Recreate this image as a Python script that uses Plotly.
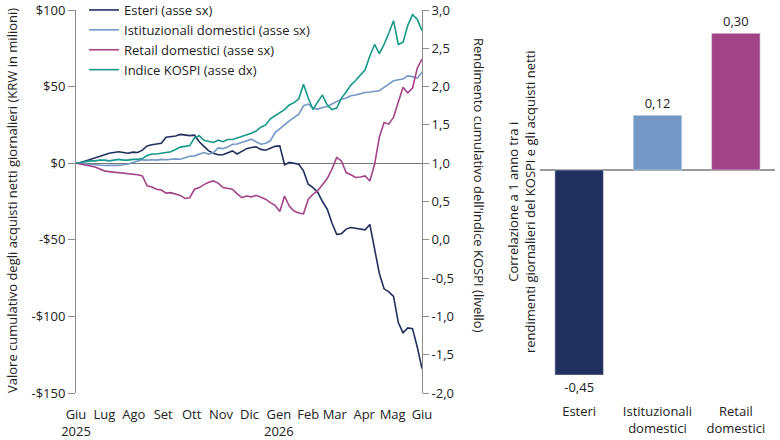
import plotly.graph_objects as go

dates = [
    "2025-06-01", "2025-06-06", "2025-06-11", "2025-06-16", "2025-06-21", "2025-06-26",
    "2025-07-01", "2025-07-06", "2025-07-11", "2025-07-16", "2025-07-21", "2025-07-26", "2025-07-31",
    "2025-08-05", "2025-08-10", "2025-08-15", "2025-08-20", "2025-08-25", "2025-08-30",
    "2025-09-04", "2025-09-09", "2025-09-14", "2025-09-19", "2025-09-24", "2025-09-29",
    "2025-10-04", "2025-10-09", "2025-10-14", "2025-10-19", "2025-10-24", "2025-10-29",
    "2025-11-03", "2025-11-08", "2025-11-13", "2025-11-18", "2025-11-23", "2025-11-28",
    "2025-12-03", "2025-12-08", "2025-12-13", "2025-12-18", "2025-12-23", "2025-12-28",
    "2026-01-02", "2026-01-07", "2026-01-12", "2026-01-17", "2026-01-22", "2026-01-27",
    "2026-02-01", "2026-02-06", "2026-02-11", "2026-02-16", "2026-02-21", "2026-02-26",
    "2026-03-03", "2026-03-08", "2026-03-13", "2026-03-18", "2026-03-23", "2026-03-28",
    "2026-04-02", "2026-04-07", "2026-04-12", "2026-04-17", "2026-04-22", "2026-04-27",
    "2026-05-02", "2026-05-07", "2026-05-12", "2026-05-17", "2026-05-22", "2026-05-27",
    "2026-06-01",
]

esteri = [
    0, 0.5, 1.5, 2.5, 3.5, 5, 5.8, 6.5, 7, 7.5, 7, 6.5, 7.2, 7, 8.5, 11.3, 12, 12.4, 13,
    17, 17.5, 17.8, 18.8, 18.5, 18, 18.3, 14, 11, 8, 6.5, 5.5, 5.5, 6.5, 8, 6, 8, 9.5,
    10.2, 10.7, 9, 8.5, 9.8, 11, 11.3, -1, 0.5, 0, -0.7, -5, -13.7, -16, -19, -25, -30,
    -39, -46.4, -46, -43, -42, -42.5, -43, -43.5, -40, -55, -72, -82, -84, -87, -104,
    -110.7, -107.5, -108, -120, -134,
]

istituzionali = [
    0, 0.3, -0.5, -0.8, -1, -1.2, -1.5, -1.3, -1.5, -1.4, -1, -0.5, 0.5, 1.5, 2.2, 2,
    2.3, 2, 2.5, 2.3, 2.6, 2.8, 2.6, 3.7, 4.5, 4.8, 6, 7, 5.9, 7, 10, 9.5, 10.5, 12.4,
    12.5, 13.5, 14.6, 15.7, 14, 12.4, 13, 14.6, 20, 22.2, 25, 27.6, 30, 32, 37.5, 38.6,
    36, 35.3, 36.4, 37, 38.6, 40, 41.8, 42.5, 44, 44.5, 45.5, 46.2, 46.5, 47, 47.3, 49.5,
    51.6, 53.8, 54.5, 55, 57, 56.5, 55.5, 59.3,
]

retail = [
    0, -0.5, -1, -1.8, -2.5, -3.9, -5, -5.5, -5.8, -6.1, -6.5, -7, -7.2, -7.5, -8.3,
    -14.8, -15.5, -17, -17.5, -19.5, -19.2, -20.3, -21, -23, -22.5, -17, -15.9, -14,
    -12.5, -11.6, -13, -15.9, -16.5, -17, -20, -22.4, -21.4, -22, -21, -22.5, -23.5,
    -25.7, -27.5, -31.5, -21.4, -28, -31.2, -32.5, -33, -23.5, -20.3, -18, -13.7, -10,
    -3.9, 3.7, 1.5, -6.1, -7.5, -9.3, -9, -8.3, -11.6, -0.7, 17, 26.6, 25.5, 30, 40,
    49.5, 46, 49, 62, 68,
]

kospi = [
    1.0, 1.01, 1.02, 1.03, 1.03, 1.04, 1.04, 1.03, 1.04, 1.05, 1.04, 1.04, 1.05, 1.05,
    1.06, 1.10, 1.12, 1.12, 1.13, 1.14, 1.15, 1.18, 1.21, 1.22, 1.23, 1.33, 1.36, 1.30,
    1.28, 1.27, 1.30, 1.28, 1.31, 1.31, 1.33, 1.35, 1.36, 1.39, 1.42, 1.47, 1.50, 1.58,
    1.62, 1.66, 1.70, 1.76, 1.79, 1.84, 2.03, 1.85, 1.70, 1.80, 1.89, 1.76, 1.70, 1.72,
    1.85, 1.93, 2.02, 2.08, 2.15, 2.22, 2.40, 2.55, 2.43, 2.55, 2.70, 2.86, 2.55, 2.58,
    2.80, 2.94, 2.88, 2.73,
]

series_names = ["Esteri (asse sx)", "Istituzionali domestici (asse sx)",
                "Retail domestici (asse sx)", "Indice KOSPI (asse dx)"]

month_ticks = ["2025-06-01", "2025-07-01", "2025-08-01", "2025-09-01", "2025-10-01",
               "2025-11-01", "2025-12-01", "2026-01-01", "2026-02-01", "2026-03-01",
               "2026-04-01", "2026-05-01", "2026-06-01"]
month_labels = ["Giu<br>2025", "Lug", "Ago", "Set", "Ott", "Nov", "Dic", "Gen<br>2026",
                "Feb", "Mar", "Apr", "Mag", "Giu"]

left_tickvals = [-150, -100, -50, 0, 50, 100]
left_ticktext = ["-$150", "-$100", "-$50", "$0", "$50", "$100"]
right_tickvals = [-2, -1.5, -1, -0.5, 0, 0.5, 1, 1.5, 2, 2.5, 3]
right_ticktext = ["-2,0", "-1,5", "-1,0", "-0,5", "0,0", "0,5", "1,0", "1,5", "2,0", "2,5", "3,0"]

bar_categories = ["Esteri", "Istituzionali<br>domestici", "Retail<br>domestici"]
bar_values = [-0.45, 0.12, 0.30]

NAVY = "#22305f"
LIGHT = "#7398c5"
MAG = "#a44488"
TEAL = "#16988a"
GREY = "#8c8c8c"
FONT = "Open Sans"
FS = 13

fig = go.Figure()
line_colors = [NAVY, LIGHT, MAG]
for name, vals, col in zip(series_names[:3], [esteri, istituzionali, retail], line_colors):
    fig.add_trace(go.Scatter(x=dates, y=vals, mode="lines", name=name,
                             line=dict(color=col, width=1.6), xaxis="x", yaxis="y"))
fig.add_trace(go.Scatter(x=dates, y=kospi, mode="lines", name=series_names[3],
                         line=dict(color=TEAL, width=1.6), xaxis="x", yaxis="y2"))

bar_text = [f"{v:.2f}".replace(".", ",") for v in bar_values]
fig.add_trace(go.Bar(x=bar_categories, y=bar_values, marker=dict(color=[NAVY, LIGHT, MAG]),
                     text=bar_text, textposition="outside", cliponaxis=False,
                     textfont=dict(size=FS, color="#222"), showlegend=False,
                     xaxis="x3", yaxis="y3", width=0.62))

fig.update_layout(
    width=780, height=440,
    margin=dict(l=0, r=0, t=0, b=0, autoexpand=False),
    paper_bgcolor="white", plot_bgcolor="white",
    font=dict(family=FONT, size=FS, color="#222"),
    showlegend=True,
    legend=dict(x=84 / 780, y=1 + 5 / 440, xanchor="left", yanchor="top",
                bgcolor="rgba(0,0,0,0)", font=dict(size=FS), tracegroupgap=0, itemwidth=30),
    xaxis=dict(domain=[76 / 780, 422 / 780], type="date", automargin=False,
               range=["2025-06-01", "2026-06-01"], tickvals=month_ticks, ticktext=month_labels,
               showgrid=False, showline=False, zeroline=False,
               ticks="outside", ticklen=9, tickcolor="rgba(0,0,0,0)",
               tickfont=dict(size=FS), anchor="y"),
    yaxis=dict(domain=[47 / 440, 430 / 440], range=[-150, 100], tickvals=left_tickvals,
               ticktext=left_ticktext, showgrid=False, showline=True, linecolor=GREY,
               linewidth=1, ticks="outside", ticklen=7, tickcolor=GREY, automargin=False,
               zeroline=True, zerolinecolor="#777", zerolinewidth=1,
               tickfont=dict(size=FS), anchor="x"),
    yaxis2=dict(overlaying="y", side="right", range=[-2, 3], tickvals=right_tickvals,
                ticktext=right_ticktext, showgrid=False, showline=True, linecolor=GREY,
                linewidth=1, ticks="outside", ticklen=6, tickcolor=GREY, zeroline=False,
                automargin=False, tickfont=dict(size=FS), anchor="x"),
    xaxis3=dict(domain=[540 / 780, 775 / 780], range=[-0.5, 2.5], showgrid=False,
                showline=False, zeroline=False, ticks="outside", ticklen=2, automargin=False,
                tickcolor="rgba(0,0,0,0)", tickfont=dict(size=FS), anchor="y3"),
    yaxis3=dict(domain=[(440 - 397.8) / 440, (440 - 10.5) / 440], range=[-0.5, 0.35],
                showgrid=False, showline=False, showticklabels=False, zeroline=True,
                automargin=False, zerolinecolor="#999", zerolinewidth=1.5, anchor="x3"),
    annotations=[
        dict(text="Valore cumulativo degli acquisti netti giornalieri (KRW in milioni)",
             xref="paper", yref="paper", x=12 / 780, y=(440 - 201) / 440, textangle=-90,
             showarrow=False, font=dict(size=FS), xanchor="center", yanchor="middle"),
        dict(text="Rendimento cumulativo dell'indice KOSPI (livello)",
             xref="paper", yref="paper", x=479 / 780, y=(440 - 185) / 440, textangle=90,
             showarrow=False, font=dict(size=FS), xanchor="center", yanchor="middle"),
        dict(text="Correlazione a 1 anno tra i<br>rendimenti giornalieri del KOSPI e gli acquisti netti",
             xref="paper", yref="paper", x=521 / 780, y=(440 - 202) / 440, textangle=-90,
             showarrow=False, font=dict(size=FS), xanchor="center", yanchor="middle"),
    ],
)

fig.write_html("out.html", config={"displayModeBar": False},
               post_script="document.body.style.margin='0';document.body.style.overflow='hidden';")
